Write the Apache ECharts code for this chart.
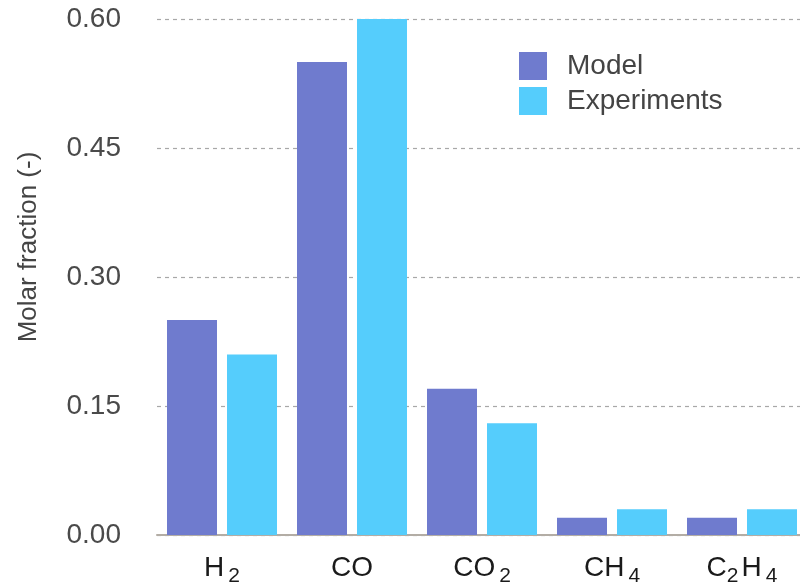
<!DOCTYPE html>
<html>
<head>
<meta charset="utf-8">
<script src="https://cdn.jsdelivr.net/npm/echarts@6/dist/echarts.min.js"></script>
<style>html,body{margin:0;padding:0;background:#fff;overflow:hidden;}#c{width:807px;height:588px;}</style>
</head>
<body>
<div id="c"></div>
<script>
const categories = ['H2', 'CO', 'CO2', 'CH4', 'C2H4'];
const categoryLabels = ['{m|H}{s|2}', '{m|CO}', '{m|CO}{s|2}', '{m|CH}{s|4}', '{m|C}{t|2}{m|H}{s|4}'];
const modelValues = [0.25, 0.55, 0.17, 0.02, 0.02];
const experimentValues = [0.21, 0.60, 0.13, 0.03, 0.03];
const yTicks = [0, 0.15, 0.30, 0.45, 0.60];

const chart = echarts.init(document.getElementById('c'), null, {renderer: 'canvas'});
const labelMap = {};
categories.forEach((c, i) => labelMap[c] = categoryLabels[i]);
const FONT = 'Liberation Sans, Arial, sans-serif';

chart.setOption({
  animation: false,
  backgroundColor: '#ffffff',
  textStyle: {fontFamily: FONT},
  grid: {left: 157, right: 0, top: 19, bottom: 53, containLabel: false},
  legend: {
    orient: 'vertical',
    left: 519, top: 52, padding: 0,
    itemWidth: 28, itemHeight: 28, itemGap: 7,
    icon: 'rect',
    textStyle: {fontSize: 28, color: '#444', padding: [0, 0, 0, 15], fontFamily: FONT},
    data: ['Model', 'Experiments']
  },
  xAxis: {
    type: 'category',
    data: categories,
    axisTick: {show: false},
    axisLine: {lineStyle: {color: '#b3ada5', width: 2}},
    axisLabel: {
      interval: 0,
      margin: 14,
      formatter: v => labelMap[v],
      rich: {
        m: {fontSize: 28, color: '#1a1a1a', fontFamily: FONT, lineHeight: 38},
        s: {fontSize: 21, color: '#1a1a1a', fontFamily: FONT, lineHeight: 21, padding: [17, 0, 0, 4]},
        t: {fontSize: 21, color: '#1a1a1a', fontFamily: FONT, lineHeight: 21, padding: [17, 3, 0, 0]}
      }
    }
  },
  yAxis: {
    type: 'value',
    min: yTicks[0], max: yTicks[yTicks.length - 1], interval: 0.15,
    name: 'Molar fraction (-)',
    nameLocation: 'middle',
    nameGap: 115,
    nameTextStyle: {fontSize: 26, color: '#444', padding: [0, 0, 0, 60]},
    axisLine: {show: false},
    axisTick: {show: false},
    axisLabel: {fontSize: 28, color: '#4a4a4a', margin: 36, formatter: v => v.toFixed(2)},
    splitLine: {lineStyle: {type: [4, 4], color: '#a8a8a8', width: 1.2}}
  },
  series: [
    {name: 'Model', type: 'bar', data: modelValues, barWidth: 50, barGap: '20%', itemStyle: {color: '#6f7bce'}},
    {name: 'Experiments', type: 'bar', data: experimentValues, barWidth: 50, itemStyle: {color: '#55cdfc'}}
  ]
});
</script>
</body>
</html>
